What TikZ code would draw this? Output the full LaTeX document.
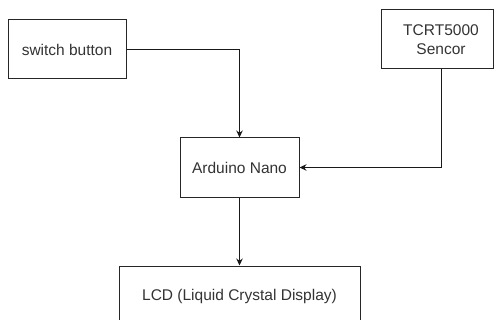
\documentclass[tikz,border=0pt]{standalone}
\usepackage{fontspec}
\setmainfont{Liberation Sans}
\usetikzlibrary{arrows.meta}
\begin{document}
\begin{tikzpicture}[x=1pt,y=-1pt,
  box/.style={draw=black!85, line width=1pt, rectangle, inner sep=0pt},
  lbl/.style={text=black!80, font=\fontsize{15.5}{19}\selectfont, align=center, inner sep=0pt},
  conn/.style={draw=black!90, line width=1pt, -{Stealth[length=7pt,width=6.5pt]}}]
\useasboundingbox (0,0) rectangle (494,320);
\node[box, minimum width=118pt, minimum height=59pt, lbl] (sw) at (67,49.5) {switch button};
\node[box, minimum width=112pt, minimum height=59pt] (tc) at (437,39.5) {};
\node[lbl] (tclbl) at (441,40) {TCRT5000\\Sencor};
\node[box, minimum width=119pt, minimum height=59pt, lbl] (ard) at (239.5,167.5) {Arduino Nano};
\node[box, minimum width=241pt, minimum height=60pt, lbl] (lcd) at (239.5,296) {LCD (Liquid Crystal Display)};
\coordinate (tcb) at (441,69);
\draw[conn] (sw.east) -| (ard.north);
\draw[conn] (tcb) |- (ard.east);
\draw[conn] (ard.south) -- (lcd.north);
\end{tikzpicture}
\end{document}
